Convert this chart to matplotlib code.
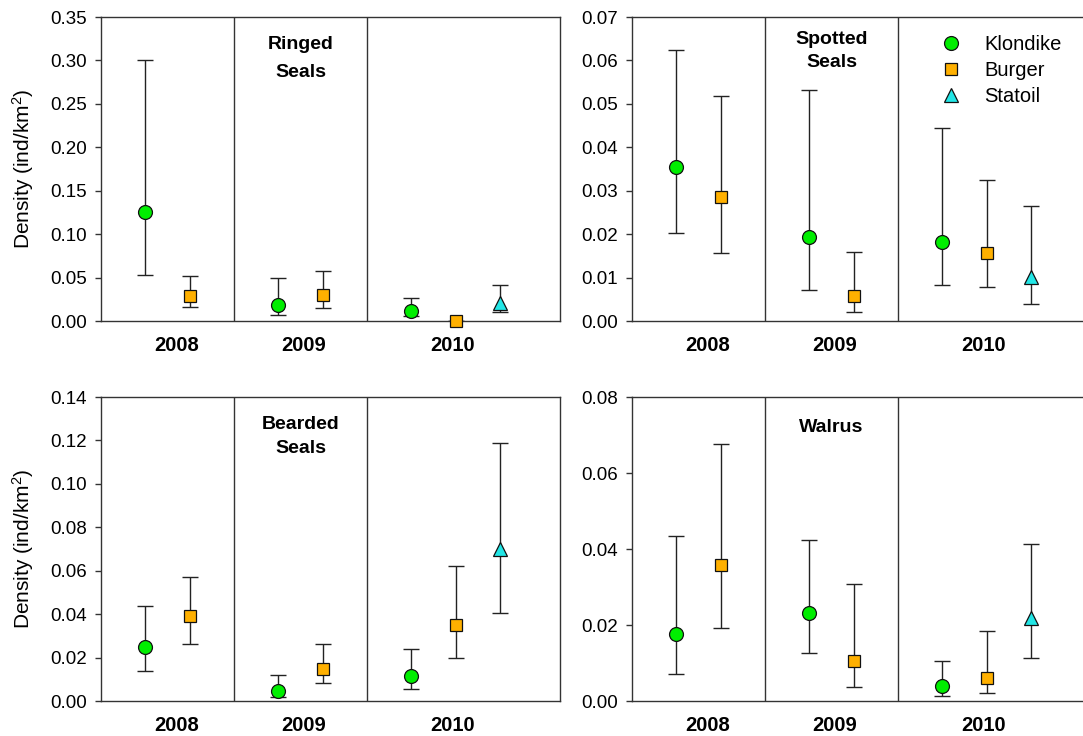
import matplotlib.pyplot as plt
from matplotlib.lines import Line2D

plt.rcParams['font.family'] = ['Liberation Sans', 'DejaVu Sans']
plt.rcParams['mathtext.default'] = 'regular'

years = ['2008', '2009', '2010']
sites = ['Klondike', 'Burger', 'Statoil']

# x position of each site inside a year block
site_offset = [1 / 3, 2 / 3, 1.0]

# density estimates [site][year] with lower / upper CI (None = no survey)
ringed_mean = [[0.125, 0.018, 0.012], [0.029, 0.030, 0.0], [None, None, 0.021]]
ringed_low = [[0.053, 0.007, 0.006], [0.016, 0.015, 0.0], [None, None, 0.010]]
ringed_high = [[0.301, 0.050, 0.027], [0.052, 0.058, 0.0], [None, None, 0.041]]

spotted_mean = [[0.0355, 0.0193, 0.0183], [0.0285, 0.0058, 0.0156], [None, None, 0.0101]]
spotted_low = [[0.0202, 0.0071, 0.0082], [0.0156, 0.0020, 0.0078], [None, None, 0.0038]]
spotted_high = [[0.0625, 0.0532, 0.0444], [0.0519, 0.0160, 0.0324], [None, None, 0.0265]]

bearded_mean = [[0.025, 0.0046, 0.0115], [0.039, 0.0147, 0.035], [None, None, 0.070]]
bearded_low = [[0.014, 0.0020, 0.0054], [0.0264, 0.0081, 0.0196], [None, None, 0.0405]]
bearded_high = [[0.0439, 0.0118, 0.0238], [0.0569, 0.0264, 0.0624], [None, None, 0.1188]]

walrus_mean = [[0.0176, 0.0232, 0.0039], [0.0359, 0.0106, 0.0060], [None, None, 0.0219]]
walrus_low = [[0.0071, 0.0126, 0.0014], [0.0191, 0.0037, 0.0020], [None, None, 0.0112]]
walrus_high = [[0.0434, 0.0425, 0.0104], [0.0677, 0.0307, 0.0183], [None, None, 0.0414]]

markers = ['o', 's', '^']
msizes = [10, 8, 9.5]
colors = ['#00ee00', '#ffb000', '#22e6e6']

panels = [
    ('Ringed\nSeals', ringed_mean, ringed_low, ringed_high, 0.35, 0.05, '%.2f', 1.85, 0.862),
    ('Spotted\nSeals', spotted_mean, spotted_low, spotted_high, 0.07, 0.01, '%.2f', 1.45, 0.887),
    ('Bearded\nSeals', bearded_mean, bearded_low, bearded_high, 0.14, 0.02, '%.2f', 1.55, 0.870),
    ('Walrus', walrus_mean, walrus_low, walrus_high, 0.08, 0.02, '%.2f', 1.2, 0.901),
]

W, H = 1083, 736
fig = plt.figure(figsize=(W / 100, H / 100), dpi=100)

# axes boxes in pixels: left, top
boxes = [(101, 17), (632, 17), (101, 397), (632, 397)]
aw, ah = 459, 304

for k, (title, mean, low, high, ymax, step, fmt, lsp, ty) in enumerate(panels):
    left, top = boxes[k]
    ax = fig.add_axes([left / W, 1 - (top + ah) / H, aw / W, ah / H])
    ax.set_xlim(0, 3.45)
    ax.set_ylim(0, ymax)
    ticks = [i * step for i in range(int(round(ymax / step)) + 1)]
    ax.set_yticks(ticks)
    ax.set_yticklabels([fmt % t for t in ticks], fontsize=13.5)
    ax.tick_params(axis='y', direction='out', length=4, width=1, pad=6, color='#333333')
    ax.set_xticks([0.57, 1.52, 2.64])
    ax.set_xticklabels(years, fontsize=14.5, fontweight='bold')
    ax.tick_params(axis='x', length=0, pad=11)
    for sp in ax.spines.values():
        sp.set_color('#333333')
        sp.set_linewidth(1)
    for xv in [1, 2]:
        ax.axvline(xv, color='#333333', lw=1)

    for s in range(3):
        xs, ys, lo, hi = [], [], [], []
        for y in range(3):
            if mean[s][y] is None:
                continue
            xs.append(y + site_offset[s])
            ys.append(mean[s][y])
            lo.append(mean[s][y] - low[s][y])
            hi.append(high[s][y] - mean[s][y])
        if not xs:
            continue
        ax.errorbar(xs, ys, yerr=[lo, hi], fmt='none', ecolor='#222222',
                    elinewidth=1, capsize=5.5, capthick=1, zorder=2)
        ax.plot(xs, ys, linestyle='none', marker=markers[s], markersize=msizes[s],
                markerfacecolor=colors[s], markeredgecolor='#111111',
                markeredgewidth=0.9, clip_on=False, zorder=3)

    ax.text(1.5, ty, title, transform=ax.get_xaxis_transform(), ha='center',
            va='center', fontsize=14, fontweight='bold', linespacing=lsp)

    if left == 101:
        ax.set_ylabel('Density (ind/km$^2$)', fontsize=15)
        ax.yaxis.set_label_coords(-0.142, 0.5)

    if k == 1:
        handles = [Line2D([], [], linestyle='none', marker=markers[s], markersize=msizes[s],
                          markerfacecolor=colors[s], markeredgecolor='#111111',
                          markeredgewidth=0.9) for s in range(3)]
        ax.legend(handles, sites, loc='upper left', bbox_to_anchor=(0.645, 0.968),
                  frameon=False, fontsize=14.5, handletextpad=0.9, labelspacing=0.36,
                  borderaxespad=0, handlelength=1.5)

fig.savefig('out.png', dpi=100)
